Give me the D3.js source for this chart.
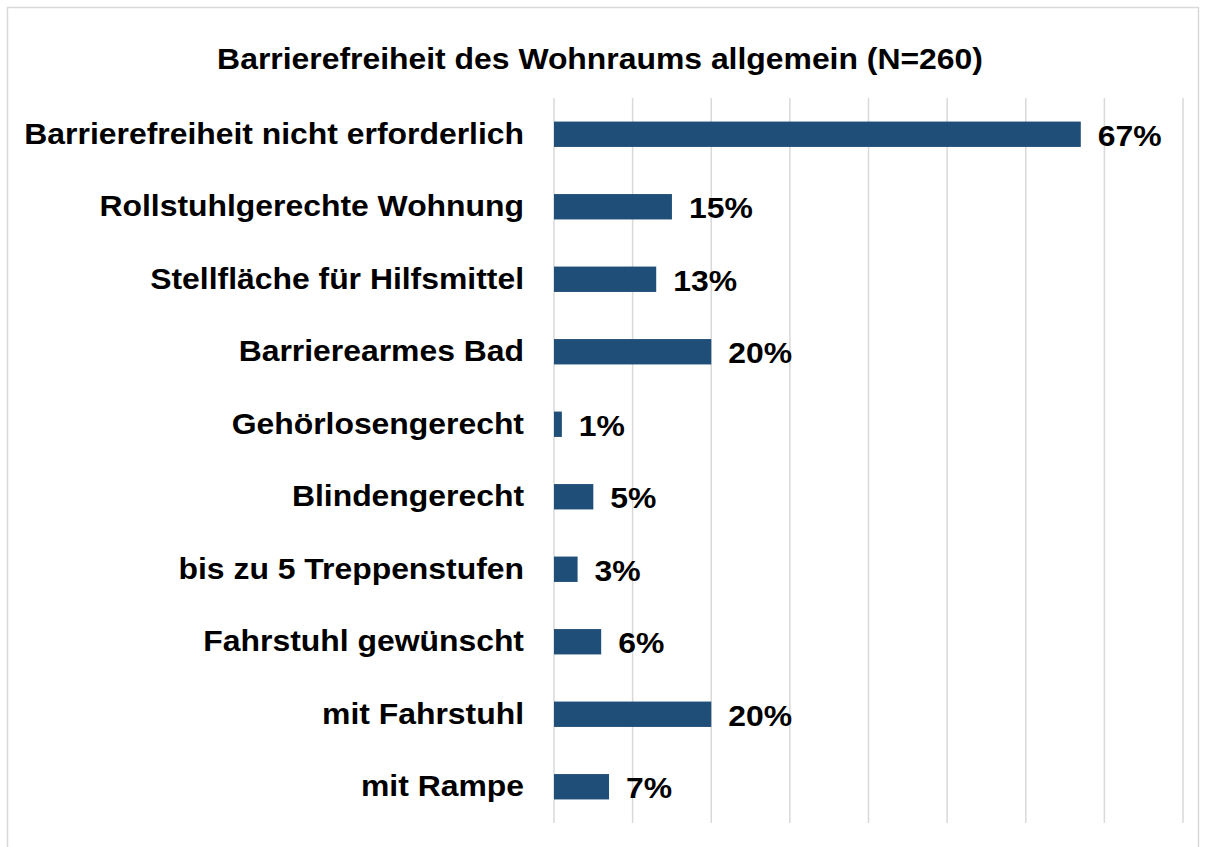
<!DOCTYPE html>
<html lang="de">
<head>
<meta charset="UTF-8">
<title>Barrierefreiheit</title>
<style>
  body { margin: 0; background: #fff; }
  svg text { font-family: "Liberation Sans", Arial, sans-serif; font-weight: bold; fill: #000; }
</style>
</head>
<body>
<div id="chart"></div>
<script src="https://cdnjs.cloudflare.com/ajax/libs/d3/7.8.5/d3.min.js"></script>
<script>
    // data
    const categories = [
        "Barrierefreiheit nicht erforderlich",
        "Rollstuhlgerechte Wohnung",
        "Stellfläche für Hilfsmittel",
        "Barrierearmes Bad",
        "Gehörlosengerecht",
        "Blindengerecht",
        "bis zu 5 Treppenstufen",
        "Fahrstuhl gewünscht",
        "mit Fahrstuhl",
        "mit Rampe"
    ];
    const values = [67, 15, 13, 20, 1, 5, 3, 6, 20, 7];
    const gridTicks = [0, 10, 20, 30, 40, 50, 60, 70, 80];
    const title = "Barrierefreiheit des Wohnraums allgemein (N=260)";

    const width = 1206, height = 847;
    const stretch = 1.1; // text in the original is slightly wider than plain Arial

    const svg = d3.select("#chart").append("svg")
        .attr("width", width)
        .attr("height", height);

    // outer frame
    svg.append("rect")
        .attr("x", 7.5).attr("y", 7.5)
        .attr("width", 1191).attr("height", 845)
        .attr("fill", "none")
        .attr("stroke", "#d9d9d9")
        .attr("stroke-width", 1.5);

    const x = d3.scaleLinear().domain([0, 80]).range([554, 1183]);
    const y = d3.scaleBand().domain(categories).range([98, 823]).paddingInner(0.65).paddingOuter(0.325);

    // vertical gridlines
    svg.append("g").selectAll("line")
        .data(gridTicks)
        .join("line")
        .attr("x1", d => x(d)).attr("x2", d => x(d))
        .attr("y1", 98).attr("y2", 823)
        .attr("stroke", "#d9d9d9")
        .attr("stroke-width", 1.5);

    // bars
    svg.append("g").selectAll("rect")
        .data(values)
        .join("rect")
        .attr("x", x(0))
        .attr("y", (d, i) => y(categories[i]))
        .attr("width", d => x(d) - x(0))
        .attr("height", y.bandwidth())
        .attr("fill", "#1f4e79");

    // category labels
    svg.append("g").selectAll("text")
        .data(categories)
        .join("text")
        .attr("transform", d => `translate(524,${y(d) + y.bandwidth() / 2 + 9.5}) scale(${stretch},1)`)
        .attr("text-anchor", "end")
        .attr("font-size", 29)
        .text(d => d);

    // value labels
    svg.append("g").selectAll("text")
        .data(values)
        .join("text")
        .attr("transform", (d, i) => `translate(${x(d) + 17},${y(categories[i]) + y.bandwidth() / 2 + 11.5}) scale(${stretch},1)`)
        .attr("font-size", 29)
        .text(d => d + "%");

    svg.append("text")
        .attr("transform", `translate(600,69) scale(${stretch},1)`)
        .attr("text-anchor", "middle")
        .attr("font-size", 29)
        .text(title);
</script>
</body>
</html>
